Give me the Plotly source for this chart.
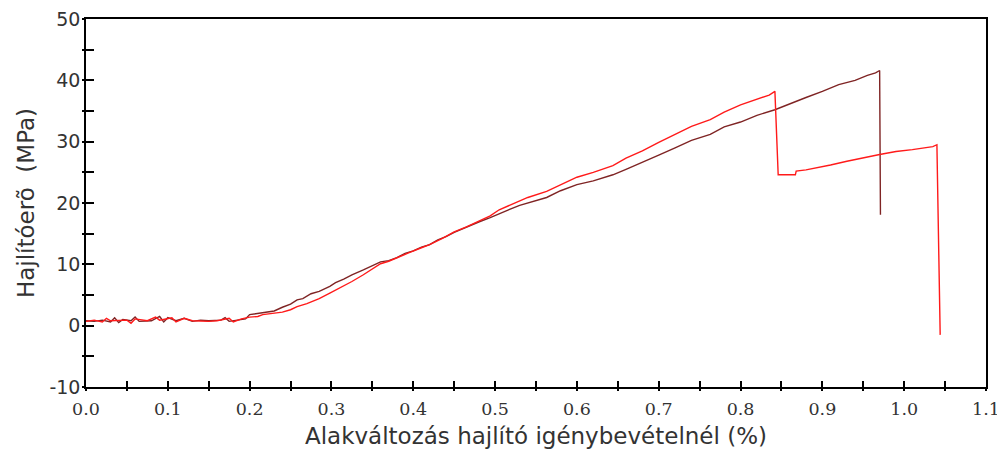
import plotly.graph_objects as go

# Dark red specimen
dark_x = [0.000, 0.010, 0.020, 0.030, 0.035, 0.040, 0.045, 0.055, 0.060, 0.065, 0.080, 0.090, 0.095,
          0.100, 0.110, 0.120, 0.130, 0.140, 0.150, 0.165, 0.170, 0.175, 0.185, 0.195, 0.200, 0.210,
          0.220, 0.230, 0.240, 0.250, 0.258, 0.265, 0.275, 0.285, 0.298, 0.305, 0.315, 0.325, 0.339,
          0.350, 0.360, 0.370, 0.380, 0.390, 0.400, 0.410, 0.420, 0.430, 0.440, 0.450, 0.460, 0.470,
          0.480, 0.494, 0.505, 0.515, 0.530, 0.545, 0.563, 0.580, 0.600, 0.620, 0.644, 0.660, 0.680,
          0.700, 0.720, 0.740, 0.763, 0.780, 0.800, 0.820, 0.842, 0.860, 0.880, 0.900, 0.920, 0.940,
          0.955, 0.965, 0.970, 0.971]
dark_y = [0.8, 0.7, 0.9, 0.6, 1.3, 0.5, 1.0, 0.8, 1.4, 0.7, 0.8, 1.5, 0.6,
          1.3, 0.8, 1.2, 0.7, 0.9, 0.8, 0.9, 1.3, 0.7, 0.9, 1.1, 1.8, 2.0,
          2.3, 2.4, 3.0, 3.5, 4.2, 4.4, 5.2, 5.6, 6.4, 7.0, 7.6, 8.3, 9.1,
          9.8, 10.4, 10.6, 11.1, 11.8, 12.2, 12.8, 13.2, 14.0, 14.5, 15.2, 15.8, 16.3,
          16.9, 17.6, 18.3, 18.8, 19.6, 20.2, 20.9, 22.0, 23.0, 23.6, 24.6, 25.5, 26.6,
          27.8, 29.0, 30.2, 31.2, 32.4, 33.2, 34.3, 35.2, 36.2, 37.2, 38.2, 39.3, 40.0,
          40.8, 41.2, 41.6, 18.1]

# Bright red specimen
red_x = [0.000, 0.010, 0.020, 0.025, 0.030, 0.050, 0.055, 0.060, 0.075, 0.085, 0.090, 0.105, 0.110,
         0.120, 0.130, 0.150, 0.160, 0.175, 0.180, 0.190, 0.200, 0.210, 0.216, 0.230, 0.240, 0.250,
         0.258, 0.270, 0.285, 0.298, 0.310, 0.325, 0.339, 0.350, 0.360, 0.370, 0.380, 0.395, 0.410,
         0.420, 0.435, 0.450, 0.465, 0.480, 0.494, 0.505, 0.520, 0.540, 0.563, 0.580, 0.600, 0.620,
         0.644, 0.660, 0.680, 0.700, 0.720, 0.740, 0.763, 0.780, 0.800, 0.820, 0.835, 0.842, 0.846,
         0.867, 0.868, 0.880, 0.893, 0.910, 0.930, 0.950, 0.970, 0.990, 1.010, 1.035, 1.040, 1.044]
red_y = [0.7, 0.9, 0.6, 1.2, 0.8, 0.9, 0.4, 1.1, 0.8, 1.4, 0.9, 1.3, 0.6,
         1.2, 0.8, 0.7, 0.8, 1.2, 0.6, 1.1, 1.4, 1.5, 1.8, 2.0, 2.2, 2.6,
         3.1, 3.6, 4.4, 5.3, 6.1, 7.2, 8.3, 9.3, 10.1, 10.5, 11.1, 11.9, 12.7,
         13.2, 14.2, 15.3, 16.1, 17.0, 17.9, 18.9, 19.8, 20.9, 21.9, 23.0, 24.2, 25.0,
         26.1, 27.3, 28.5, 29.9, 31.2, 32.5, 33.6, 34.8, 36.0, 36.9, 37.6, 38.2, 24.6,
         24.6, 25.2, 25.4, 25.8, 26.2, 26.8, 27.4, 27.9, 28.4, 28.7, 29.2, 29.5, -1.5]

x_range = [0, 1.1]
y_range = [-10, 50]
y_tickvals = [-10, 0, 10, 20, 30, 40, 50]
y_ticktext = ["-10", "0", "10", "20", "30", "40", "50"]

fig = go.Figure()
fig.add_trace(go.Scatter(x=dark_x, y=dark_y, mode="lines",
                         line=dict(color="#7f2424", width=1.4), showlegend=False))
fig.add_trace(go.Scatter(x=red_x, y=red_y, mode="lines",
                         line=dict(color="#ff1a1a", width=1.4), showlegend=False))

tickfont_y = dict(family="DejaVu Sans", size=19, color="#333333")
tickfont_x = dict(family="DejaVu Serif", size=17.5, color="#333333")
titlefont = dict(family="DejaVu Sans", size=23, color="#333333")

# page body adds an 8px offset, so the figure is sized to fit the 1005x467 window
fig.update_layout(
    width=997, height=459,
    margin=dict(l=78, r=19, t=11, b=80),
    paper_bgcolor="white", plot_bgcolor="white",
    xaxis=dict(range=x_range, dtick=0.1, tick0=0, tickformat=".1f", automargin=False,
               ticklabeloverflow="allow", ticklabelstandoff=5,
               showgrid=False, zeroline=False, showline=True, linecolor="black", linewidth=1.5,
               mirror=True, ticks="inside", ticklen=6, tickcolor="black", tickwidth=1.5,
               minor=dict(dtick=0.05, ticks="inside", ticklen=6, tickcolor="black", tickwidth=1.5),
               tickfont=tickfont_x,
               title=dict(text="Alakváltozás hajlító igénybevételnél (%)", font=titlefont, standoff=10)),
    yaxis=dict(range=y_range, tickvals=y_tickvals, ticktext=y_ticktext, automargin=False,
               ticklabeloverflow="allow",
               showgrid=False, zeroline=False, showline=True, linecolor="black", linewidth=1.5,
               mirror=True, ticks="inside", ticklen=8, tickcolor="black", tickwidth=1.5,
               minor=dict(dtick=5, tick0=0, ticks="inside", ticklen=8, tickcolor="black", tickwidth=1.5),
               tickfont=tickfont_y,
               title=dict(text="Hajlítóerõ  (MPa)", font=titlefont, standoff=8)),
    xaxis2=dict(range=x_range, overlaying="x", side="bottom", showticklabels=False, automargin=False,
                showgrid=False, zeroline=False, showline=False, dtick=0.05, tick0=0,
                ticks="outside", ticklen=3, tickcolor="black", tickwidth=1.5),
    yaxis2=dict(range=y_range, overlaying="y", side="left", showticklabels=False, automargin=False,
                showgrid=False, zeroline=False, showline=False, dtick=5, tick0=0,
                ticks="outside", ticklen=3, tickcolor="black", tickwidth=1.5),
)
fig.add_trace(go.Scatter(x=[0], y=[0], xaxis="x2", yaxis="y2", mode="markers",
                         marker=dict(opacity=0), showlegend=False, hoverinfo="skip"))

fig.write_html("out.html")
